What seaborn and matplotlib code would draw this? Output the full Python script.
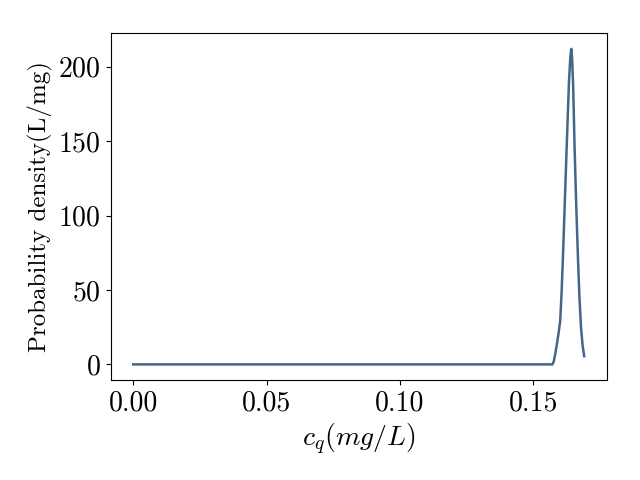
import numpy as np
import pandas as pd
import seaborn as sns
import matplotlib.pyplot as plt

# concentration (mg/L) and probability density (L/mg)
c_q = [0.0, 0.050, 0.100, 0.1572, 0.1577, 0.1583, 0.1589, 0.1595, 0.1601, 0.1606,
       0.1611, 0.1618, 0.1625, 0.1634, 0.1639, 0.16425, 0.1646, 0.1650, 0.1655,
       0.1661, 0.1668, 0.1673, 0.1679, 0.1685, 0.1691]
density = [0.0, 0.0, 0.0, 0.0, 2.0, 7.5, 14.0, 21.0, 29.0, 47.0,
           70.0, 107.0, 144.0, 190.0, 206.0, 212.0, 205.0, 185.0, 146.0,
           108.0, 70.0, 46.0, 25.0, 13.0, 5.5]

df = pd.DataFrame({"c_q": c_q, "density": density})

plt.rcParams['font.family'] = 'serif'
plt.rcParams['font.serif'] = ['cmr10', 'DejaVu Serif']
plt.rcParams['mathtext.fontset'] = 'cm'
plt.rcParams['axes.formatter.use_mathtext'] = True
plt.rcParams['font.size'] = 20

fig, ax = plt.subplots(figsize=(6.4, 4.8), dpi=100)
sns.lineplot(data=df, x="c_q", y="density", color='#436789', linewidth=1.8, ax=ax)
ax.set_xlabel(r'$c_q (mg/L)$', fontsize=20)
ax.set_ylabel('Probability density(L/mg)', fontsize=18)
ax.set_xticks([0.0, 0.05, 0.10, 0.15])
ax.set_xticklabels(['0.00', '0.05', '0.10', '0.15'])
ax.set_yticks([0, 50, 100, 150, 200])
plt.subplots_adjust(left=0.173, right=0.948, top=0.931, bottom=0.208)
plt.savefig('out.png', dpi=100)
